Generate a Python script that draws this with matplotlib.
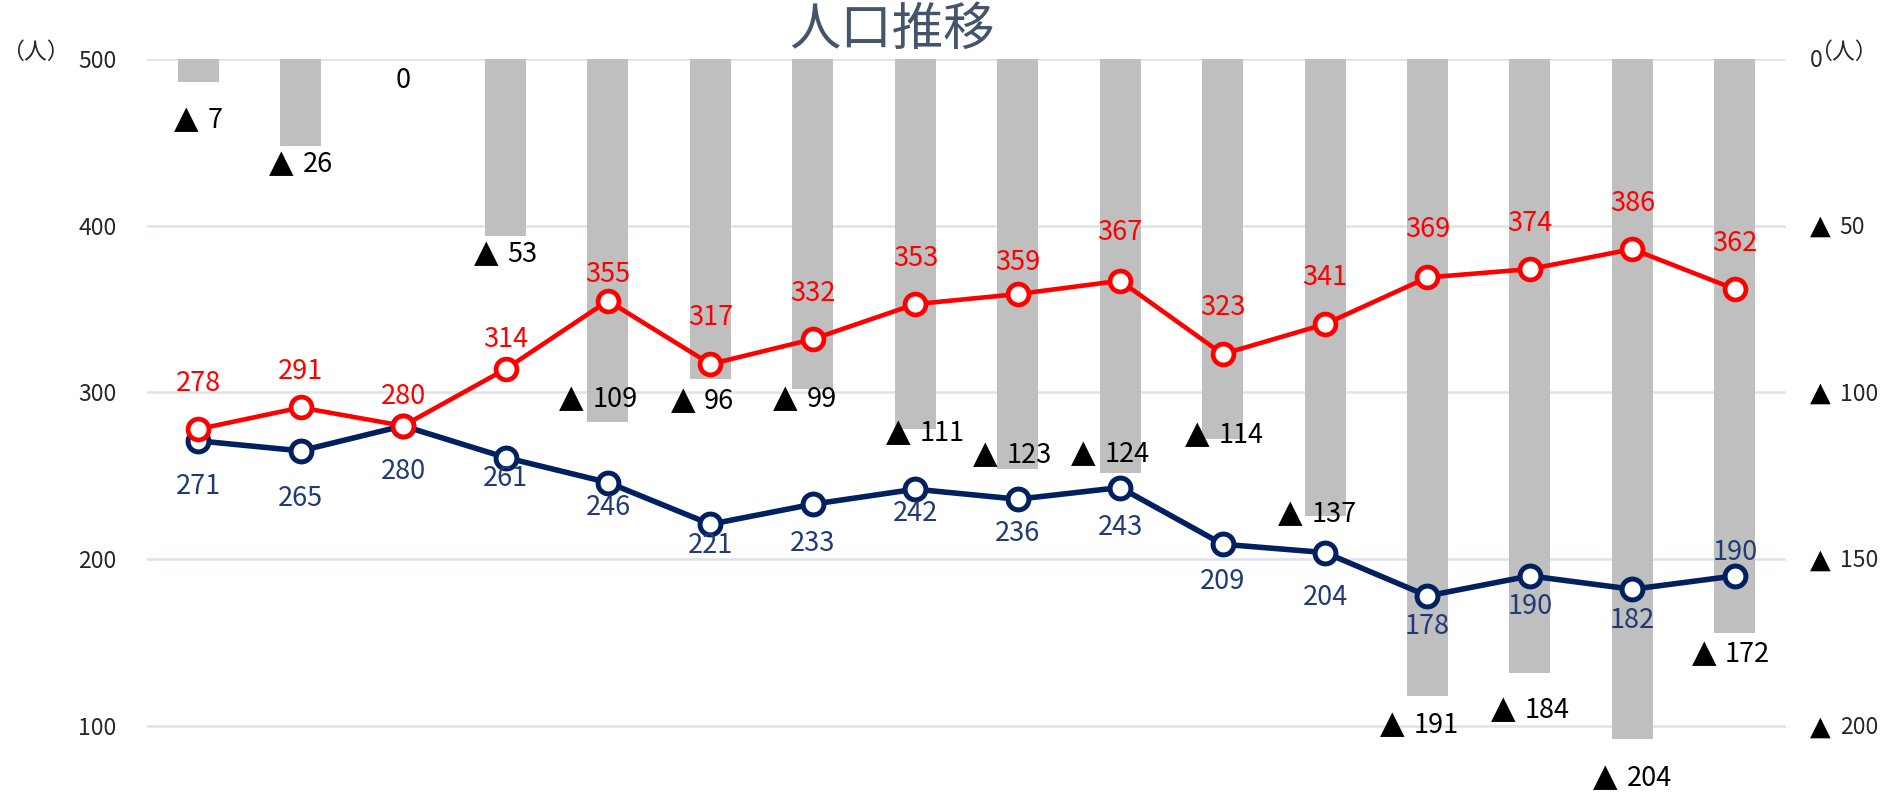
import matplotlib.pyplot as plt
import numpy as np

plt.rcParams['font.family'] = ['Noto Sans CJK JP', 'DejaVu Sans']

# DATA
decrease = [7, 26, 0, 53, 109, 96, 99, 111, 123, 124, 114, 137, 191, 184, 204, 172]
moved_in = [278, 291, 280, 314, 355, 317, 332, 353, 359, 367, 323, 341, 369, 374, 386, 362]
moved_out = [271, 265, 280, 261, 246, 221, 233, 242, 236, 243, 209, 204, 178, 190, 182, 190]
left_ticks = [100, 200, 300, 400, 500]
right_ticks = [0, 50, 100, 150, 200]

# label nudges in pixels (dx right, dy down)
bar_lab_dx = [0, 0, 0, 0, -10, -8, -8, 10, -5, -10, 2, -8, -8, 0, 0, -4]
bar_lab_dy = [36, 17, 19, 17, -25, 20, 8, 2, -16, -20, -6, -4, 27, 36, 37, 20]
red_lab_dy = [-46, -36, -29, -30, -26, -47, -46, -46, -32, -48, -47, -47, -48, -46, -46, -46]
blue_lab_dy = [46, 48, 46, 21, 25, 21, 39, 24, 34, 40, 37, 45, 31, 31, 31, -23]

PX = 72 / 100  # pixels -> points at dpi 100

W, H = 1903, 792
fig = plt.figure(figsize=(W / 100, H / 100), dpi=100)
ax = fig.add_axes([147 / W, 0, (1786 - 147) / W, 733 / H])  # bars, right scale
ax2 = ax.twinx()  # lines, left scale

x = np.arange(len(decrease))

# "▲ n" labels: big DejaVu triangle + number, laid out after a first draw
tri_pairs = []

def tri_label(a, xy, coords, dx, dy, v, size, halign, color='black'):
    base = -(dy + size * 0.5) * PX  # baseline a bit under the visual centre
    num = a.annotate(str(v), xy, xycoords=coords, xytext=(dx * PX, base),
                     textcoords='offset points', ha='left', va='baseline',
                     fontsize=size, color=color, zorder=5)
    tri = None
    if v != 0:
        tri = a.annotate('▲', xy, xycoords=coords, xytext=(dx * PX, base),
                         textcoords='offset points', ha='left', va='baseline',
                         fontsize=size * 1.18, family='DejaVu Sans', color='black', zorder=5)
    tri_pairs.append((tri, num, dx, base, halign))

# bars hang from the top (inverted right axis)
ax.bar(x, decrease, width=0.4, color='#BFBFBF', zorder=2)
ax.set_ylim(219.8, 0)
ax.set_xlim(-0.5, len(decrease) - 0.5)
ax.set_yticks(right_ticks)
ax.yaxis.tick_right()
ax.grid(axis='y', color='#DEE3EA', lw=1.8, zorder=0)
ax.set_axisbelow(True)
ax.tick_params(axis='y', length=0, labelright=False)
ax.tick_params(axis='x', length=0, labelbottom=False)

for i, v in enumerate(decrease):
    tri_label(ax, (i, v), 'data', bar_lab_dx[i], bar_lab_dy[i], v, 19.5, 'center')

# right-axis tick labels, left aligned just past the plot
for v in right_ticks:
    tri_label(ax, (1, v), ax.get_yaxis_transform(), 24, 0, v, 16.5, 'left', '#262626')

ax2.plot(x, moved_out, color='#002060', lw=4, marker='o', ms=15,
         mfc='white', mec='#002060', mew=3.6, zorder=3)
ax2.plot(x, moved_in, color='#FF0000', lw=3.3, marker='o', ms=15,
         mfc='white', mec='#FF0000', mew=3.4, zorder=4)
ax2.set_ylim(60.4, 500)
ax2.set_yticks(left_ticks)
ax2.yaxis.tick_left()
ax2.tick_params(axis='y', length=0, pad=22, labelsize=16.5, labelcolor='#262626')

for i, v in enumerate(moved_in):
    ax2.annotate(str(v), (i, v), xytext=(0, -red_lab_dy[i] * PX),
                 textcoords='offset points', ha='center', va='center',
                 fontsize=19.5, color='#FF0000')
for i, v in enumerate(moved_out):
    ax2.annotate(str(v), (i, v), xytext=(0, -blue_lab_dy[i] * PX),
                 textcoords='offset points', ha='center', va='center',
                 fontsize=19.5, color='#1F3A74')

for a in (ax, ax2):
    for s in a.spines.values():
        s.set_visible(False)

fig.text(892 / W, 1 - 30 / H, '人口推移', ha='center', va='center',
         fontsize=37, color='#44546A')
fig.text(1 / W, 1 - 52 / H, '（人）', ha='left', va='center', fontsize=16.5, color='#262626')
fig.text(1809 / W, 1 - 52 / H, '（人）', ha='left', va='center', fontsize=16.5, color='#262626')

# place triangle + number side by side
fig.canvas.draw()
r = fig.canvas.get_renderer()
gap = 9
for tri, num, dx, base, halign in tri_pairs:
    nw = num.get_window_extent(r).width
    tw = tri.get_window_extent(r).width if tri is not None else 0
    g = gap if tri is not None else 0
    total = tw + g + nw
    left = dx - total / 2 if halign == 'center' else dx
    if tri is not None:
        tri.xyann = (left * PX, base)
    num.xyann = ((left + tw + g) * PX, base)

fig.savefig('out.png', dpi=100)
